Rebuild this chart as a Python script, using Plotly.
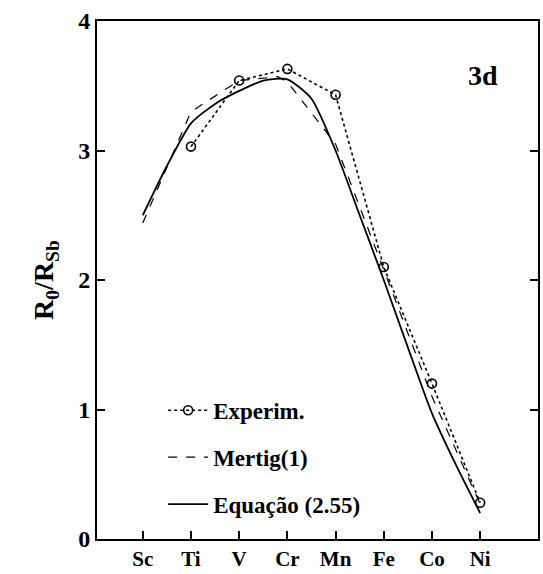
import plotly.graph_objects as go

elements = ["Sc", "Ti", "V", "Cr", "Mn", "Fe", "Co", "Ni"]

exp_x = [1, 2, 3, 4, 5, 6, 7]
exp_y = [3.03, 3.54, 3.63, 3.43, 2.10, 1.20, 0.28]

mertig_x = [0, 1, 2, 2.8, 3, 4, 5, 6, 7]
mertig_y = [2.44, 3.30, 3.54, 3.57, 3.53, 3.05, 2.08, 1.10, 0.27]

eq_x = [0, 0.5, 1, 1.5, 2, 2.5, 3, 3.5, 4, 4.5, 5, 5.5, 6, 6.5, 7]
eq_y = [2.50, 2.88, 3.21, 3.36, 3.46, 3.54, 3.55, 3.40, 3.00, 2.50, 2.00, 1.48, 0.97, 0.57, 0.20]

FONT = "Liberation Serif, Times New Roman, serif"

fig = go.Figure()
fig.add_trace(go.Scatter(
    x=exp_x, y=exp_y, mode="lines+markers", name="Experim.", legendgroup="a",
    line=dict(color="black", width=1.6, dash="dot"),
    marker=dict(symbol="circle-open", size=9, color="black", line=dict(width=1.6)),
))
fig.add_trace(go.Scatter(
    x=mertig_x, y=mertig_y, mode="lines", name="Mertig(1)", legendgroup="b",
    line=dict(color="black", width=1.2, dash="dash"),
))
fig.add_trace(go.Scatter(
    x=eq_x, y=eq_y, mode="lines", name="Equação (2.55)", legendgroup="c",
    line=dict(color="black", width=1.8, shape="spline", smoothing=0.6),
))

fig.update_layout(
    width=543, height=574,
    margin=dict(l=97, r=3, t=21, b=31),
    paper_bgcolor="white", plot_bgcolor="white",
    font=dict(family=FONT, color="black", size=20, weight="bold"),
    showlegend=True,
    legend=dict(
        x=0.15, y=0.29, xanchor="left", yanchor="top",
        bgcolor="rgba(0,0,0,0)",
        font=dict(family=FONT, size=23, weight="bold"),
        tracegroupgap=14, itemwidth=40,
    ),
    annotations=[dict(
        text="3d", x=0.876, y=0.895, xref="paper", yref="paper",
        xanchor="center", yanchor="middle",
        showarrow=False, font=dict(family=FONT, size=28, weight="bold"),
    )],
)

fig.update_xaxes(
    range=[-0.95, 8.2],
    tickmode="array", tickvals=list(range(len(elements))), ticktext=elements,
    ticks="inside", ticklen=8, tickwidth=1.5, tickcolor="black",
    showline=True, linecolor="black", linewidth=2, mirror=True,
    showgrid=False, zeroline=False,
    tickfont=dict(family=FONT, size=21, weight="bold"),
)
fig.update_yaxes(
    range=[0, 4],
    tickmode="array", tickvals=[0, 1, 2, 3, 4],
    ticks="inside", ticklen=8, tickwidth=1.5, tickcolor="black",
    showline=True, linecolor="black", linewidth=2, mirror="ticks",
    showgrid=False, zeroline=False,
    tickfont=dict(family=FONT, size=24, weight="bold"),
    title=dict(text="R<sub>0</sub>/R<sub>Sb</sub>", standoff=16,
               font=dict(family=FONT, size=28, weight="bold")),
)

fig.write_html("out.html")
